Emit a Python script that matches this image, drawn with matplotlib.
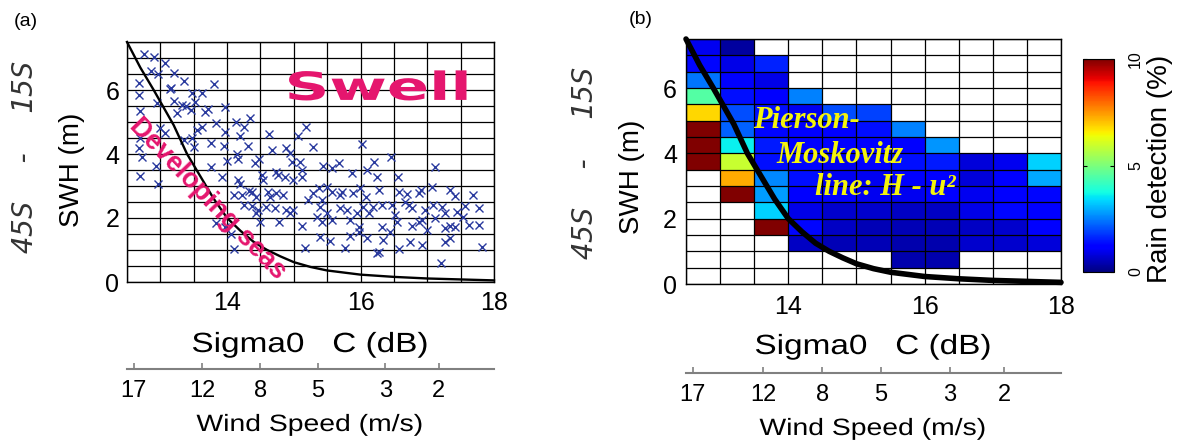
import numpy as np
import matplotlib
matplotlib.use("Agg")
import matplotlib.pyplot as plt
import matplotlib.patheffects as pe
from matplotlib.transforms import Affine2D

nan = np.nan

# bin edges of the grid (Sigma0 C in dB, SWH in m)
sigma_edges = [12.5, 13.0, 13.5, 14.0, 14.5, 15.0, 15.5, 16.0, 16.5, 17.0, 17.5, 18.0]
swh_edges = [0.0, 0.5, 1.0, 1.5, 2.0, 2.5, 3.0, 3.5, 4.0, 4.5, 5.0, 5.5, 6.0, 6.5, 7.0, 7.5]

# Pierson-Moskovitz line
curve_sigma = [12.5, 12.6, 12.7, 12.8, 12.9, 13.05, 13.2, 13.4, 13.6, 13.8, 14.0,
               14.2, 14.4, 14.6, 14.8, 15.0, 15.25, 15.5, 16.0, 16.5, 17.0, 17.5, 18.0]
curve_swh = [7.5, 7.1, 6.7, 6.35, 6.0, 5.45, 4.9, 4.0, 3.3, 2.6, 2.0,
             1.6, 1.25, 1.0, 0.8, 0.62, 0.47, 0.36, 0.23, 0.16, 0.11, 0.08, 0.05]

# panel (a) scatter, Sigma0 C (dB) and SWH (m)
scatter_sigma = [
    12.75, 12.9, 13.07, 12.86, 12.97, 13.21, 13.36, 12.68, 12.68, 13.16, 13.14, 13.81,
    13.47, 13.62, 12.95, 13.2, 13.33, 13.38, 13.52, 12.7, 13.25, 13.46, 13.67, 13.72,
    13.97, 13.83, 14.13, 14.25, 14.35, 13.62, 13.0, 13.07, 13.55, 13.97, 14.2, 13.36,
    13.47, 13.5, 13.76, 13.96, 12.68, 12.72, 12.93, 13.76, 14.15, 14.0, 14.17, 14.32,
    12.7, 12.97, 13.92, 14.17, 14.2, 14.33, 14.1, 14.22, 14.25, 14.38, 13.83, 13.97,
    14.06, 14.1, 12.69,
    14.63, 14.68, 14.89, 14.94, 15.07, 15.19, 15.29, 14.42, 14.48, 14.52, 14.54, 14.74,
    14.77, 14.87, 14.97, 15.09, 15.12, 14.99, 15.12, 14.38, 14.44, 14.62, 14.64, 14.74,
    14.84, 14.47, 14.58, 14.72, 14.88, 14.99, 14.94, 14.49, 14.78, 14.43, 15.22, 15.29,
    15.37, 15.42, 15.39, 15.49, 15.34, 15.43, 15.57, 15.68, 15.49, 15.57, 15.72, 15.87,
    15.89, 15.99, 16.09, 16.2, 16.02, 15.69, 15.79, 15.94, 16.04, 16.08, 16.12, 15.84,
    15.57, 15.42, 15.12, 15.39, 15.54, 15.84, 15.98, 16.09, 15.17, 15.76, 16.24, 15.97,
    16.19, 16.27, 16.24, 15.69,
    16.46, 17.12, 16.56, 16.58, 16.69, 16.87, 16.91, 17.07, 17.34, 17.42, 17.68, 16.32,
    16.47, 16.67, 16.72, 16.77, 16.97, 17.08, 17.22, 17.27, 17.44, 17.57, 17.54, 17.77,
    16.52, 16.54, 16.32, 16.44, 16.77, 16.87, 16.92, 16.99, 17.12, 17.27, 17.34, 17.42,
    17.62, 17.77, 16.34, 16.28, 16.57, 16.74, 16.92, 17.27, 17.34, 17.82, 17.21]
scatter_swh = [
    7.12, 7.04, 6.85, 6.6, 6.49, 6.54, 6.29, 6.21, 5.84, 6.05, 6.02, 6.19,
    5.9, 5.9, 5.58, 5.66, 5.53, 5.5, 5.63, 5.35, 5.29, 5.38, 5.32, 5.4,
    5.48, 4.98, 5.01, 4.85, 5.11, 4.85, 4.8, 4.65, 4.75, 4.7, 4.56, 4.44,
    4.49, 4.23, 4.33, 4.25, 4.18, 3.92, 3.63, 3.6, 4.0, 3.79, 3.83, 4.25,
    3.31, 3.06, 3.27, 3.19, 3.06, 2.85, 2.72, 2.72, 2.41, 2.38, 1.83, 1.73,
    1.5, 1.02, 4.5,
    4.61, 4.12, 4.18, 4.02, 4.56, 4.85, 4.23, 3.71, 3.83, 3.34, 3.19, 3.45,
    3.34, 3.29, 3.76, 3.76, 3.5, 3.19, 3.29, 2.82, 2.67, 2.82, 2.67, 2.77,
    2.72, 2.25, 2.35, 2.3, 2.25, 2.25, 2.15, 1.89, 1.89, 2.15, 2.56, 2.77,
    2.93, 2.56, 2.35, 2.15, 2.04, 3.63, 3.57, 3.73, 2.98, 2.82, 2.82, 3.4,
    2.77, 2.93, 3.5, 3.76, 4.31, 2.3, 2.25, 2.15, 2.35, 2.67, 2.15, 1.94,
    1.94, 1.89, 1.75, 1.42, 1.28, 1.44, 1.73, 1.36, 1.05, 1.05, 0.9, 1.57,
    2.35, 2.87, 3.29, 2.72,
    3.9, 3.6, 3.27, 2.82, 2.75, 2.77, 2.87, 2.98, 2.87, 2.69, 2.72, 2.41,
    2.41, 2.51, 2.41, 2.3, 2.25, 2.41, 2.35, 2.15, 2.2, 2.38, 2.04, 2.3,
    2.09, 1.89, 1.73, 1.57, 1.75, 1.89, 1.94, 1.62, 1.99, 1.68, 1.75, 1.73,
    1.78, 1.78, 1.31, 0.95, 1.02, 1.26, 1.16, 1.26, 1.36, 1.1, 0.6]

# panel (b) rain detection (%), rows from SWH 7.5 (top) down to 0
rain_pct = [
    [1.0, 0.3, nan, nan, nan, nan, nan, nan, nan, nan, nan],
    [1.3, 0.9, 1.6, nan, nan, nan, nan, nan, nan, nan, nan],
    [2.4, 1.1, 0.9, nan, nan, nan, nan, nan, nan, nan, nan],
    [4.5, 1.4, 1.1, 2.5, nan, nan, nan, nan, nan, nan, nan],
    [6.8, 2.0, 1.4, 1.0, 2.0, 1.9, nan, nan, nan, nan, nan],
    [10., 2.2, 1.3, 1.1, 1.2, 1.4, 2.5, nan, nan, nan, nan],
    [10., 3.6, 1.5, 1.2, 1.1, 1.1, 1.1, 2.7, nan, nan, nan],
    [10., 5.9, 1.4, 1.3, 1.0, 1.1, 1.4, 1.5, 0.8, 1.0, 3.3],
    [nan, 7.3, 2.6, 1.4, 1.0, 1.0, 1.1, 1.2, 0.8, 1.1, 2.9],
    [nan, 10., 2.8, 1.2, 1.1, 1.0, 1.0, 1.1, 1.0, 1.1, 1.3],
    [nan, nan, 3.3, 0.9, 0.7, 0.7, 0.6, 0.6, 0.9, 1.3, 1.2],
    [nan, nan, 10., 1.3, 0.6, 0.5, 0.5, 0.5, 0.6, 0.7, 1.1],
    [nan, nan, nan, 0.6, 0.5, 0.5, 0.4, 0.4, 0.7, 0.7, 0.8],
    [nan, nan, nan, nan, nan, nan, 0.4, 0.4, nan, nan, nan],
    [nan, nan, nan, nan, nan, nan, nan, nan, nan, nan, nan],
]

# wind speed scale under each panel
wind_tick_sigma = [12.6, 13.63, 14.5, 15.36, 16.37, 17.17]
wind_labels = ["17", "12", "8", "5", "3", "2"]

plt.rcParams["font.family"] = ["Liberation Sans", "DejaVu Sans"]

W, H = 1187, 445
PINK = "#E5166E"


class HStretch(pe.AbstractPathEffect):
    """widen text horizontally around its own centre"""
    def __init__(self, sx):
        super().__init__()
        self.sx = sx

    def draw_path(self, renderer, gc, tpath, affine, rgbFace=None):
        bb = tpath.get_extents(affine)
        cx = 0.5 * (bb.x0 + bb.x1)
        t = affine + Affine2D().translate(-cx, 0).scale(self.sx, 1).translate(cx, 0)
        renderer.draw_path(gc, tpath, t, rgbFace)


def box(x0, y0, x1, y1):
    # pixel box -> figure fraction
    return [x0 / W, 1 - y1 / H, (x1 - x0) / W, (y1 - y0) / H]


def style_axes(ax, xpad, ypad):
    ax.set_xlim(12.5, 18)
    ax.set_ylim(0, 7.5)
    ax.set_xticks([14, 16, 18])
    ax.set_yticks([0, 2, 4, 6])
    ax.set_xticks(sigma_edges, minor=True)
    ax.set_yticks(swh_edges, minor=True)
    ax.grid(True, which="both", color="black", lw=0.9)
    ax.tick_params(which="both", length=0, labelsize=18)
    ax.tick_params(axis="x", pad=xpad)
    ax.tick_params(axis="y", pad=ypad)
    for s in ax.spines.values():
        s.set_linewidth(1.0)


def wind_axis(x0, x1, y):
    wax = fig.add_axes([x0 / W, 1 - y / H, (x1 - x0) / W, 0.0001])
    wax.set_xlim(12.5, 18)
    wax.patch.set_visible(False)
    for s in ["left", "right", "top"]:
        wax.spines[s].set_visible(False)
    wax.spines["bottom"].set_color("#808080")
    wax.spines["bottom"].set_linewidth(1.5)
    wax.set_yticks([])
    wax.set_xticks(wind_tick_sigma)
    wax.set_xticklabels(wind_labels)
    wax.tick_params(axis="x", direction="in", length=4, width=1.2, color="#808080",
                    labelsize=17, pad=8)
    return wax


fig = plt.figure(figsize=(W / 100, H / 100), dpi=100)

# ---- panel (a)
ax1 = fig.add_axes(box(127, 42, 494, 282))
style_axes(ax1, 6.5, 5.5)
ax1.set_axisbelow(True)
ax1.plot(scatter_sigma, scatter_swh, "x", color="#2A3A9E", ms=6, mew=1.0)
ax1.plot(curve_sigma, curve_swh, color="black", lw=1.7, clip_on=False)
ax1.text(16.26, 5.69, "Swell", color=PINK, fontsize=28, fontweight="bold",
         family="DejaVu Sans", ha="center", va="baseline",
         path_effects=[HStretch(1.6)])
ax1.text(13.7, 2.6, "Developing seas", color=PINK, fontsize=19.5, fontweight="bold",
         rotation=-46, rotation_mode="anchor", ha="center", va="center")

# ---- panel (b)
ax2 = fig.add_axes(box(686, 39, 1061, 284))
style_axes(ax2, 8, 6.5)
grid = np.ma.masked_invalid(np.array(rain_pct)[::-1])
mesh = ax2.pcolormesh(sigma_edges, swh_edges, grid, cmap="jet", vmin=0, vmax=10)
ax2.set_axisbelow(False)
ax2.plot(curve_sigma, curve_swh, color="black", lw=4, solid_capstyle="round",
         clip_on=False, zorder=5)
yellow = "#F4F40C"
serif = dict(color=yellow, fontsize=22, family="Liberation Serif", fontweight="bold",
             style="italic", ha="left", va="baseline", zorder=6)
ax2.text(13.49, 4.77, "Pierson-", **serif)
ax2.text(13.83, 3.69, "Moskovitz", **serif)
ax2.text(14.39, 2.72, "line: H - u²", **serif)

# colour bar
cax = fig.add_axes(box(1083, 59, 1114, 272))
cb = fig.colorbar(mesh, cax=cax)
cb.set_ticks([0, 5, 10])
cb.outline.set_linewidth(0.8)
cax.tick_params(direction="in", length=3, left=True, right=True, labelsize=11.5,
                labelrotation=90, pad=10)
for lab in cax.get_yticklabels():
    lab.set_va("center")
fig.text(1160 / W, 1 - 169 / H, "Rain detection (%)", rotation=90, fontsize=20,
         ha="center", va="center")

# ---- axis texts for both panels
for x_mid, x0, x1, sig_y, wind_y, wlab_y, swh_x, swh_y, lat_x, lat_y in [
        (310, 127, 494, 345, 369, 425, 72, 170, 25, 157),
        (873, 686, 1061, 347, 373, 429, 632, 177, 585, 163)]:
    fig.text(x_mid / W, 1 - sig_y / H, "Sigma0   C (dB)", fontsize=20,
             ha="center", va="center", path_effects=[HStretch(1.2)])
    wind_axis(x0, x1, wind_y)
    fig.text(x_mid / W, 1 - wlab_y / H, "Wind Speed (m/s)", fontsize=17,
             ha="center", va="center", path_effects=[HStretch(1.2)])
    fig.text(swh_x / W, 1 - swh_y / H, "SWH (m)", fontsize=20, rotation=90,
             ha="center", va="center")
    fig.text(lat_x / W, 1 - lat_y / H, "45S  -  15S", fontsize=21, rotation=90,
             family="DejaVu Sans Mono", style="oblique", color="#333333",
             ha="center", va="center")

fig.text(26 / W, 1 - 22 / H, "(a)", fontsize=14, ha="center", va="center")
fig.text(641 / W, 1 - 20 / H, "(b)", fontsize=14, ha="center", va="center")

fig.savefig("out.png", dpi=100)
